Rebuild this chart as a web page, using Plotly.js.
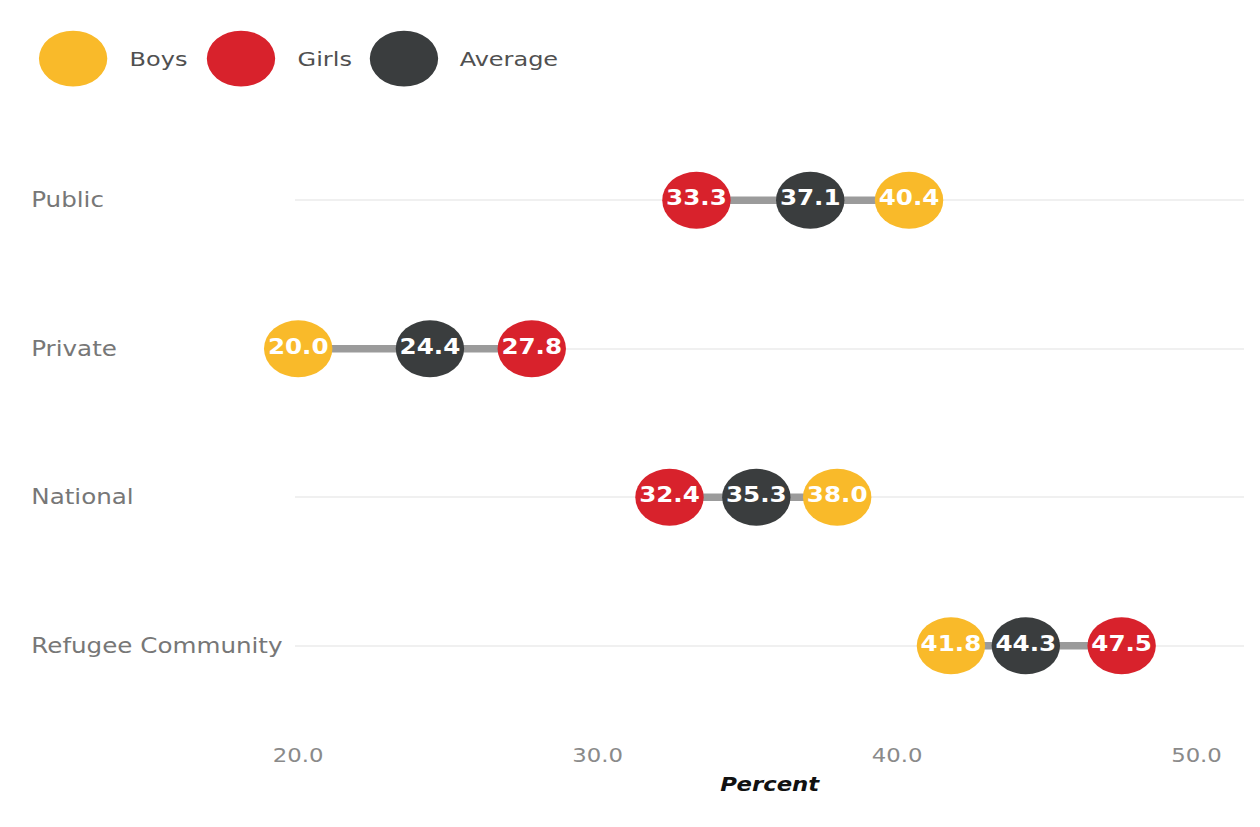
<!DOCTYPE html>
<html>
<head>
<meta charset="utf-8">
<script src="https://cdn.plot.ly/plotly-3.0.1.min.js"></script>
<style>
html,body{margin:0;padding:0;background:#ffffff;overflow:hidden;width:1260px;height:827px;}
#wrap{width:1260px;height:827px;overflow:hidden;}
#chart{width:1050px;height:827px;transform:scaleX(1.2);transform-origin:0 0;}
</style>
</head>
<body>
<div id="wrap"><div id="chart"></div></div>
<script>
// ---- data ----
const categories = ["Public", "Private", "National", "Refugee Community"];
const boys = [40.4, 20.0, 38.0, 41.8];
const girls = [33.3, 27.8, 32.4, 47.5];
const average = [37.1, 24.4, 35.3, 44.3];
const seriesNames = ["Boys", "Girls", "Average"];
const seriesColors = ["#F9BA2A", "#D8222C", "#3A3D3E"];
const xTickVals = [20, 30, 40, 50];
const xTickText = ["20.0", "30.0", "40.0", "50.0"];
const xTitle = "Percent";

// ---- layout geometry (unscaled px) ----
const W = 1050, H = 827;
const mL = 246, mR = 12.5, mT = 125.5, mB = 106.5;
const plotW = W - mL - mR, plotH = H - mT - mB;
const px2xp = p => (p - mL) / plotW;
const py2yp = p => (H - mB - p) / plotH;

const FONT = "DejaVu Sans, sans-serif";
const traces = [];

// connector lines
const lx = [], ly = [];
categories.forEach((c, i) => {
  const vals = [boys[i], girls[i], average[i]];
  lx.push(Math.min(...vals), Math.max(...vals), null);
  ly.push(c, c, null);
});
traces.push({
  x: lx, y: ly, type: "scatter", mode: "lines",
  line: {color: "#9b9b9b", width: 7.5},
  hoverinfo: "skip", showlegend: false
});

const seriesData = [boys, girls, average];
seriesData.forEach((vals, k) => {
  traces.push({
    x: vals, y: categories, type: "scatter", mode: "markers+text",
    name: seriesNames[k],
    marker: {size: 57, color: seriesColors[k], line: {width: 0}},
    text: vals.map(v => v.toFixed(1)),
    textposition: "middle center",
    textfont: {family: "DejaVu Sans, sans-serif", size: 20.5, color: "#ffffff", weight: "bold"},
    cliponaxis: false, showlegend: false
  });
});

// legend (shapes + annotations)
const legendCx = [60.8, 200.8, 336.7];
const legendTx = [105.5, 245.5, 381.5];
const legendY = 58;
const shapes = [], annotations = [];
seriesNames.forEach((n, k) => {
  shapes.push({
    type: "circle", xref: "paper", yref: "paper",
    x0: px2xp(legendCx[k] - 28.5), x1: px2xp(legendCx[k] + 28.5),
    y0: py2yp(legendY + 28), y1: py2yp(legendY - 28),
    fillcolor: seriesColors[k], line: {width: 0}
  });
  annotations.push({
    xref: "paper", yref: "paper", x: px2xp(legendTx[k]), y: py2yp(legendY),
    xanchor: "left", yanchor: "middle", showarrow: false, text: n,
    font: {family: FONT, size: 20, color: "#505050"}
  });
});
// category labels, left aligned
categories.forEach(c => {
  annotations.push({
    xref: "paper", yref: "y", x: px2xp(24), y: c,
    xanchor: "left", yanchor: "middle", showarrow: false, text: c,
    font: {family: FONT, size: 20.5, color: "#777777"}
  });
});

const layout = {
  width: W, height: H,
  margin: {l: mL, r: mR, t: mT, b: mB, pad: 0},
  paper_bgcolor: "#ffffff", plot_bgcolor: "#ffffff",
  showlegend: false,
  xaxis: {
    range: [19.9, 51.6], tickvals: xTickVals, ticktext: xTickText,
    showgrid: false, zeroline: false, showline: false, ticks: "",
    ticklabelstandoff: 22,
    tickfont: {family: FONT, size: 19, color: "#8a8a8a"},
    title: {text: "<i><b>" + xTitle + "</b></i>", standoff: 12,
            font: {family: FONT, size: 19, color: "#111111"}}
  },
  yaxis: {
    type: "category", categoryarray: categories, range: [3.5, -0.5],
    showticklabels: false, showgrid: true, gridcolor: "#f0f0f0", gridwidth: 2,
    zeroline: false, showline: false, ticks: ""
  },
  shapes: shapes, annotations: annotations
};

Plotly.newPlot("chart", traces, layout, {displayModeBar: false, staticPlot: true});
</script>
</body>
</html>
